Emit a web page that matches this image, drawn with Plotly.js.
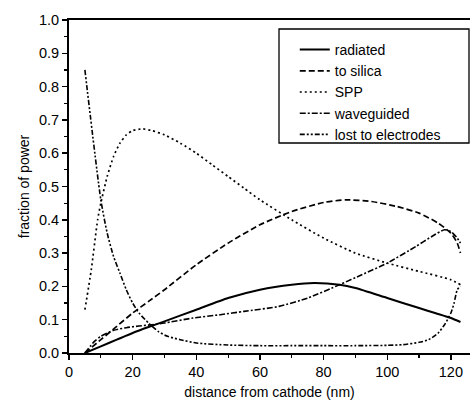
<!DOCTYPE html>
<html>
<head>
<meta charset="utf-8">
<script src="https://cdn.plot.ly/plotly-3.0.1.min.js"></script>
<style>html,body{margin:0;padding:0;background:#fff;}#chart{width:472px;height:405px;}</style>
</head>
<body>
<div id="chart"></div>
<script>
// Series names
const seriesNames = ["radiated", "to silica", "SPP", "waveguided", "lost to electrodes"];

// radiated
const radX = [5, 10, 15, 20, 25, 30, 40, 50, 60, 70, 77, 85, 90, 100, 110, 115, 120, 123];
const radY = [0, 0.02, 0.04, 0.06, 0.078, 0.095, 0.13, 0.165, 0.19, 0.205, 0.21, 0.205, 0.195, 0.165, 0.135, 0.12, 0.105, 0.093];

// to silica
const silX = [5, 10, 15, 20, 25, 30, 40, 50, 60, 70, 80, 87, 95, 103, 110, 116, 120, 122, 123];
const silY = [0, 0.04, 0.08, 0.12, 0.155, 0.19, 0.265, 0.33, 0.385, 0.425, 0.452, 0.46, 0.455, 0.44, 0.42, 0.39, 0.36, 0.33, 0.30];

// SPP
const sppX = [5, 7, 9, 10, 12, 14, 16, 18, 20, 23, 26, 30, 35, 40, 45, 50, 55, 60, 70, 80, 90, 100, 110, 120, 123];
const sppY = [0.13, 0.25, 0.40, 0.45, 0.53, 0.59, 0.63, 0.655, 0.668, 0.673, 0.668, 0.655, 0.63, 0.60, 0.565, 0.53, 0.495, 0.46, 0.40, 0.345, 0.30, 0.27, 0.245, 0.22, 0.205];

// waveguided
const wgX = [5, 8, 10, 14, 18, 22, 26, 30, 39, 47.5, 55, 66, 75, 85, 92, 100, 109, 114, 118, 120, 122, 123];
const wgY = [0, 0.035, 0.05, 0.068, 0.076, 0.081, 0.085, 0.09, 0.105, 0.115, 0.125, 0.14, 0.165, 0.205, 0.235, 0.27, 0.32, 0.35, 0.37, 0.365, 0.345, 0.33];

// lost to electrodes
const lostX = [5, 10, 12, 14, 16, 18, 20, 22, 25, 28, 31, 35, 40, 50, 60, 70, 80, 90, 100, 105, 110, 113, 116, 118, 120, 121, 122, 123];
const lostY = [0.85, 0.46, 0.36, 0.29, 0.24, 0.19, 0.15, 0.12, 0.09, 0.065, 0.05, 0.04, 0.03, 0.024, 0.022, 0.022, 0.022, 0.022, 0.023, 0.025, 0.032, 0.04, 0.06, 0.085, 0.12, 0.15, 0.19, 0.20];

const xTickVals = [0, 20, 40, 60, 80, 100, 120];
const yTickVals = [0.0, 0.1, 0.2, 0.3, 0.4, 0.5, 0.6, 0.7, 0.8, 0.9, 1.0];

const lineStyles = [
  {width: 2, dash: "solid"},
  {width: 1.7, dash: "6px,3px"},
  {width: 1.7, dash: "2px,3px"},
  {width: 1.6, dash: "6px,2px,2px,2px"},
  {width: 1.6, dash: "5px,2px,2px,2px,2px,2px"}
];
const xs = [radX, silX, sppX, wgX, lostX];
const ys = [radY, silY, sppY, wgY, lostY];

const traces = seriesNames.map((n, i) => ({
  x: xs[i], y: ys[i], name: n, type: "scatter", mode: "lines",
  line: {color: "#000", width: lineStyles[i].width, dash: lineStyles[i].dash, shape: "spline", smoothing: 0.6}
}));

const fam = "Liberation Sans, Arial, sans-serif";

const layout = {
  width: 472, height: 405,
  margin: {l: 69, r: 2, t: 20, b: 52},
  paper_bgcolor: "#fff", plot_bgcolor: "#fff",
  font: {family: fam, color: "#000", size: 14},
  showlegend: true,
  legend: {
    x: 0.563, y: 0.958, xanchor: "left", yanchor: "top",
    borderwidth: 0, bgcolor: "rgba(0,0,0,0)",
    font: {family: fam, size: 14, color: "#000"},
    itemwidth: 30, tracegroupgap: 0
  },
  shapes: [{
    type: "rect", xref: "paper", yref: "paper",
    x0: 0.5237, x1: 0.9975, y0: 0.6306, y1: 0.973,
    line: {color: "#000", width: 1.3}, fillcolor: "rgba(0,0,0,0)", layer: "above"
  }],
  xaxis: {
    range: [0, 126], tickvals: xTickVals, ticktext: xTickVals.map(String),
    ticks: "outside", ticklen: 5, tickwidth: 1.5, tickcolor: "#000",
    minor: {dtick: 10, tick0: 0, ticks: "outside", ticklen: 3, tickwidth: 1.2, tickcolor: "#000"},
    showline: true, linecolor: "#000", linewidth: 2, mirror: true,
    showgrid: false, zeroline: false,
    tickfont: {family: fam, size: 14.5, color: "#000"},
    title: {text: "distance from cathode (nm)", font: {family: fam, size: 14, color: "#000"}, standoff: 8}
  },
  yaxis: {
    range: [0, 1.0], tickvals: yTickVals, ticktext: yTickVals.map(v => v.toFixed(1)),
    ticks: "outside", ticklen: 5, tickwidth: 1.5, tickcolor: "#000",
    minor: {dtick: 0.05, tick0: 0, ticks: "outside", ticklen: 3, tickwidth: 1.2, tickcolor: "#000"},
    showline: true, linecolor: "#000", linewidth: 2, mirror: false,
    showgrid: false, zeroline: false,
    tickfont: {family: fam, size: 14.5, color: "#000"},
    title: {text: "fraction of power", font: {family: fam, size: 14, color: "#000"}, standoff: 6}
  }
};

Plotly.newPlot("chart", traces, layout, {displayModeBar: false, staticPlot: true});
</script>
</body>
</html>
